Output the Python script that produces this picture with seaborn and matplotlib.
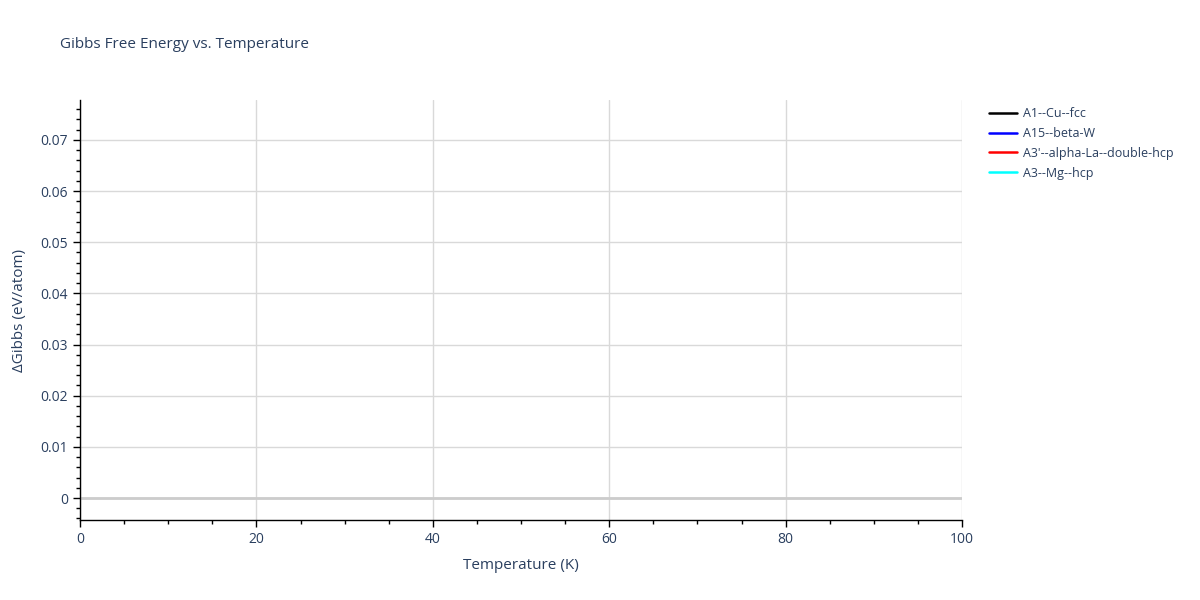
import numpy as np
import pandas as pd
import seaborn as sns
import matplotlib.pyplot as plt
from matplotlib.ticker import MultipleLocator

# no data points ended up in the visible range, series are empty
phases = ['A1--Cu--fcc', 'A15--beta-W', "A3'--alpha-La--double-hcp", 'A3--Mg--hcp']
colors = ['black', 'blue', 'red', 'cyan']
temperature = []
dgibbs = {p: [] for p in phases}

rows = []
for p in phases:
    for t, g in zip(temperature, dgibbs[p]):
        rows.append({'T': t, 'G': g, 'phase': p})
df = pd.DataFrame(rows, columns=['T', 'G', 'phase'])

sns.set_style('white')
plt.rcParams['font.family'] = ['Open Sans', 'DejaVu Sans']
txt = '#2a3f5f'

fig = plt.figure(figsize=(12, 6), dpi=100)
ax = fig.add_axes([80/1200, 80/600, 882/1200, 420/600])

sns.lineplot(data=df, x='T', y='G', hue='phase', hue_order=phases,
             palette=dict(zip(phases, colors)), ax=ax, legend=False)
for p, c in zip(phases, colors):
    ax.plot([], [], color=c, lw=1.8, label=p)

ax.set_xlim(0, 100)
ax.set_ylim(-0.0043, 0.0778)
ax.set_xticks([0, 20, 40, 60, 80, 100])
ax.set_yticks([0, 0.01, 0.02, 0.03, 0.04, 0.05, 0.06, 0.07])
ax.set_yticklabels(['0', '0.01', '0.02', '0.03', '0.04', '0.05', '0.06', '0.07'])
ax.xaxis.set_minor_locator(MultipleLocator(5))
ax.yaxis.set_minor_locator(MultipleLocator(0.002))
ax.grid(True, which='major', color='#d9d9d9', lw=1)
ax.axhline(0, color='#cccccc', lw=2, zorder=1)
for s in ['top', 'right']:
    ax.spines[s].set_visible(False)
for s in ['left', 'bottom']:
    ax.spines[s].set_color('black')
    ax.spines[s].set_linewidth(1)
ax.tick_params(axis='both', which='major', direction='out', length=5, width=1,
               color='black', labelsize=10, labelcolor=txt, bottom=True, left=True)
ax.tick_params(axis='both', which='minor', direction='out', length=3, width=1,
               color='black', bottom=True, left=True)

ax.set_xlabel('Temperature (K)', fontsize=11, color=txt, labelpad=8)
ax.set_ylabel('ΔGibbs (eV/atom)', fontsize=11, color=txt, labelpad=10)
fig.text(60/1200, 1 - 45/600, 'Gibbs Free Energy vs. Temperature', fontsize=11,
         color=txt, va='center', ha='left')

ax.legend(loc='upper left', bbox_to_anchor=(1.025, 0.995), frameon=False,
          fontsize=9, labelcolor=txt, handlelength=2.2, handletextpad=0.5,
          labelspacing=0.55, borderaxespad=0)

fig.savefig('out.png', dpi=100)
